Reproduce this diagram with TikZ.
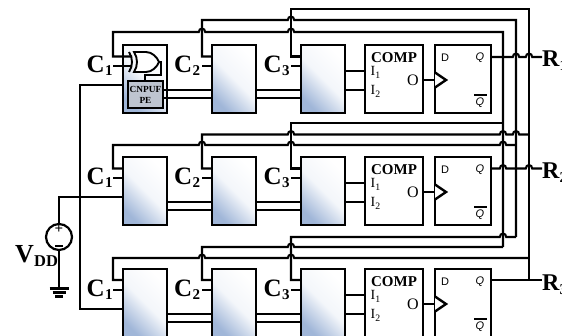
\documentclass[tikz,border=0pt]{standalone}
\usepackage{fontspec}
\setmainfont{Liberation Serif}
\newfontfamily\ffsans{Liberation Sans}
\definecolor{boxblue}{RGB}{160,182,216}
\definecolor{pegray}{RGB}{190,197,208}
\newcommand{\hopat}[2]{-- (#1-3.2,#2) .. controls (#1-3.2,#2-4.5) and (#1+3.2,#2-4.5) .. (#1+3.2,#2)}
\tikzset{
  wire/.style={line width=2.1pt,line join=miter},
  block/.style={draw,line width=2.2pt,inner sep=0pt,outer sep=0pt,anchor=north west,minimum width=#1,minimum height=68pt},
  blue block/.style={block=44pt,top color=white,bottom color=boxblue,middle color=white!88!boxblue,shading angle=-45},
  comp block/.style={block=58pt,fill=white},
  ff block/.style={block=56pt,fill=white},
  big/.style={anchor=base west,inner sep=0pt,font=\fontsize{25}{25}\bfseries\selectfont},
  sub/.style={font=\fontsize{15}{15}\bfseries\selectfont,inner sep=0pt,anchor=base west},
  small/.style={font=\ffsans\fontsize{11}{11}\itshape\selectfont,inner sep=0pt},
}
\begin{document}
\begin{tikzpicture}[x=1pt,y=-1pt]
\useasboundingbox (0,0) rectangle (562,336);
\clip (0,0) rectangle (562,336);
\foreach \r/\dy in {1/0,2/112,3/224}{
  \begin{scope}[yshift=-\dy pt]
  \node[blue block] (a\r) at (123,45) {};
  \node[blue block] (b\r) at (212,45) {};
  \node[blue block] (c\r) at (301,45) {};
  \node[comp block] (d\r) at (365,45) {};
  \node[ff block] (e\r) at (435,45) {};
  \coordinate (ca\r) at (113,66);
  \coordinate (cb\r) at (202,66);
  \coordinate (cc\r) at (291,66);
  \draw[wire] (cb\r) -- (b\r.west |- cb\r);
  \draw[wire] (cc\r) -- (c\r.west |- cc\r);
  \foreach \yy in {90,98}{
    \draw[wire] (a\r.east |- 0,\yy) -- (b\r.west |- 0,\yy);
    \draw[wire] (b\r.east |- 0,\yy) -- (c\r.west |- 0,\yy);
  }
  \draw[wire] (c\r.east |- 0,71) -- (d\r.west |- 0,71);
  \draw[wire] (c\r.east |- 0,90) -- (d\r.west |- 0,90);
  \draw[wire] (d\r.east |- 0,80) -- (e\r.west |- 0,80);
  \draw[line width=2.4pt,fill=white] (e\r.west |- 0,72.5) -- (446,80) -- (e\r.west |- 0,87.5);
  \node[inner sep=0pt,font=\fontsize{15}{15}\bfseries\selectfont] (ct\r) at (394,57.5) {COMP};
  \node[inner sep=0pt,anchor=base west,font=\fontsize{14}{14}\selectfont] (ia\r) at (370.5,76) {I\textsubscript{1}};
  \node[inner sep=0pt,anchor=base west,font=\fontsize{14}{14}\selectfont] (ib\r) at (370.5,95) {I\textsubscript{2}};
  \node[inner sep=0pt,font=\fontsize{16}{16}\selectfont] (o\r) at (413,80) {O};
  \node[inner sep=0pt,font=\ffsans\fontsize{11}{11}\selectfont] (dd\r) at (445,57.5) {D};
  \node[small] (q\r) at (480,57.5) {Q};
  \node[small] (qb\r) at (480,102.5) {Q};
  \draw[line width=1.5pt] (474,95) -- (487,95);
  \node[big] (la\r) at (86.5,73) {C};
  \node[sub] (lsa\r) at (105,76) {1};
  \node[big] (lb\r) at (174,73) {C};
  \node[sub] (lsb\r) at (192.5,76) {2};
  \node[big] (lc\r) at (263.5,73) {C};
  \node[sub] (lsc\r) at (282,76) {3};
  \node[big,font=\fontsize{24}{24}\bfseries\selectfont] (lr\r) at (542,66.5) {R};
  \node[sub] (lsr\r) at (559.5,71) {\r};
  \end{scope}
}
% row 1 inner detail
\node[draw,line width=2.2pt,fill=pegray,inner sep=0pt,outer sep=0pt,anchor=north west,minimum width=35pt,minimum height=27pt,align=center,font=\fontsize{9.3}{10}\bfseries\selectfont] (pe) at (128,81) {CNPUF\\[1pt]PE};
\foreach \yy in {90,98}{\draw[wire] (pe.east |- 0,\yy) -- (a1.east |- 0,\yy);}
\coordinate (gout) at (159,62);
\coordinate (ga) at (132,66);
\coordinate (gb) at (132,56.5);
% row-1 routing
\draw[wire] (ca1) -- (ga);
\draw[wire] (gb) -- (113,56.5) -- (113,32) \hopat{202}{32} \hopat{291}{32} -- (503,32) -- (503,247);
\draw[line width=1.9pt] (129,52) .. controls (133,58) and (133,66) .. (129,72);
\draw[line width=1.9pt,fill=white] (134,52) -- (146,52) .. controls (152,52) and (157,57) .. (gout) .. controls (157,67) and (152,72) .. (146,72) -- (134,72) .. controls (138,66) and (138,58) .. (134,52) -- cycle;
\draw[wire] (gout) -- (161,62) -- (161,75) -- (145,75) -- (pe.north -| 145,0);
\draw[wire] (b1.west |- 0,56.5) -- (202,56.5) -- (202,20) \hopat{291}{20} -- (516,20) -- (516,237);
\draw[wire] (c1.west |- 0,56.5) -- (291,56.5) -- (291,9) -- (529,9) -- (529,280);
\draw[wire] (e1.east |- 0,57) \hopat{516}{57} \hopat{529}{57} -- (lr1.west |- 0,57);
% row-2 routing
\draw[wire] (ca2) -- (a2.west |- ca2);
\draw[wire] (a2.west |- 0,168.5) -- (113,168.5) -- (113,145) \hopat{202}{145} \hopat{291}{145} \hopat{503}{145} -- (516,145);
\draw[wire] (b2.west |- 0,168.5) -- (202,168.5) -- (202,134.5) \hopat{291}{134.5} \hopat{503}{134.5} \hopat{516}{134.5} -- (529,134.5);
\draw[wire] (c2.west |- 0,168.5) -- (291,168.5) -- (291,123) -- (503,123);
\draw[wire] (e2.east |- 0,168.5) \hopat{503}{168.5} -- (516,168.5) \hopat{529}{168.5} -- (lr2.west |- 0,168.5);
% row-3 routing
\draw[wire] (ca3) -- (a3.west |- ca3);
\draw[wire] (a3.west |- 0,280) -- (113,280) -- (113,258) \hopat{202}{258} \hopat{291}{258} -- (529,258);
\draw[wire] (b3.west |- 0,280) -- (202,280) -- (202,247) \hopat{291}{247} -- (503,247);
\draw[wire] (c3.west |- 0,280) -- (291,280) -- (291,237) \hopat{503}{237} -- (516,237);
\draw[wire] (e3.east |- 0,280) -- (lr3.west |- 0,280);
% power
\node[draw,circle,line width=2.2pt,minimum size=26pt,inner sep=0pt,outer sep=0pt] (vdd) at (59,237) {};
\node[inner sep=0pt,font=\fontsize{15}{15}\bfseries\selectfont] (vp) at (59,229.5) {+};
\draw[line width=2pt] (55,246) -- (63,246);
\draw[wire] (vdd.north) -- (59,197) -- (a2.west |- 0,197);
\draw[wire] (a1.west |- 0,85) -- (80,85) -- (80,309) -- (a3.west |- 0,309);
\coordinate (gnd) at (59,288);
\draw[wire] (vdd.south) -- (gnd);
\draw[line width=2.2pt] (49.5,288.5) -- (68.5,288.5);
\draw[line width=2.2pt] (52.5,292.5) -- (65.5,292.5);
\draw[line width=2.2pt] (55,296.5) -- (63,296.5);
\node[big,font=\fontsize{26}{26}\bfseries\selectfont] (vl) at (15,263) {V};
\node[sub,font=\fontsize{16.5}{16.5}\bfseries\selectfont] (vs) at (34,267) {DD};
\end{tikzpicture}
\end{document}
